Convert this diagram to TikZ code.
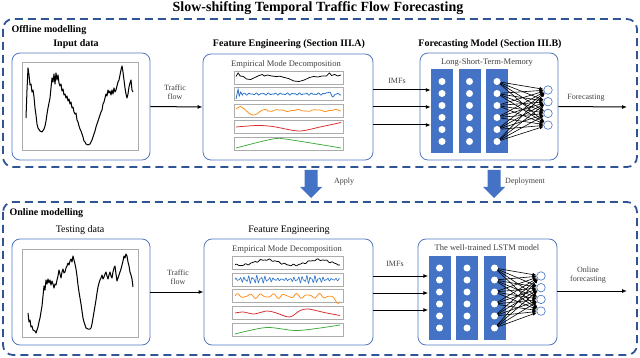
\documentclass[tikz,border=0pt]{standalone}
\usepackage{fontspec}
\setmainfont{Liberation Serif}
\usetikzlibrary{arrows.meta}
\definecolor{dashblue}{RGB}{47,85,151}
\definecolor{boxblue}{RGB}{84,120,190}
\definecolor{colblue}{RGB}{68,114,196}
\definecolor{txtgray}{RGB}{64,64,64}
\definecolor{imfblue}{RGB}{35,110,200}
\definecolor{imforange}{RGB}{255,140,20}
\definecolor{imfred}{RGB}{220,40,40}
\definecolor{imfgreen}{RGB}{60,170,60}
\tikzset{imf/.style 2 args={shift={(#1,#2)},x=105pt,y=5pt,line width=0.75pt}}
\begin{document}
\begin{tikzpicture}[x=1pt,y=-1pt,
  stage/.style={draw=dashblue,line width=1.8pt,dash pattern=on 8pt off 5pt,rounded corners=10pt},
  panel/.style={draw=boxblue,line width=0.8pt,rounded corners=8pt,fill=white},
  frame/.style={draw=gray!65,line width=0.8pt},
  head/.style={font=\fontsize{10}{12}\selectfont\bfseries},
  sub/.style={font=\fontsize{10}{12}\selectfont},
  lbl/.style={font=\fontsize{8}{9}\selectfont,text=txtgray,align=center},
  layer/.style={fill=colblue,minimum width=22pt,minimum height=84pt,inner sep=0},
  cell/.style={circle,fill=white,minimum size=7pt,inner sep=0},
  outcell/.style={circle,draw=colblue,fill=white,line width=0.6pt,minimum size=8.5pt,inner sep=0},
  flow/.style={-{Latex[length=5pt,width=4pt]},line width=1pt},
  link/.style={-{Latex[length=4pt,width=3.5pt]},line width=0.6pt},
  curve/.style={line width=1pt,line join=round}]
\useasboundingbox (0,0) rectangle (640,358);
\node[font=\fontsize{14}{16}\selectfont\bfseries] (title) at (318,8) {Slow-shifting Temporal Traffic Flow Forecasting};

% offline part
\draw[stage] (3,19) rectangle (637,167);
\node[head,anchor=west] (offT) at (8,30) {Offline modelling};
\node[head] (inT) at (76,44) {Input data};
\node[panel,minimum width=138pt,minimum height=107pt] (inA) at (81,106.5) {};
\draw[frame] (22,62) rectangle (138,150);
\draw[curve] plot coordinates {(26,118)(27,90)(28,68)(29,75)(30,85)(31,84)(32,92)(33,90)(34,97)(35,108)(36,115)(37,124)(38,128)(40,131)(42,132)(44,129)(45,126)(46,121)(47,114)(48,108)(49,103)(50,98)(51,88)(52,78)(53,82)(54,74)(55,84)(56,73)(57,80)(58,75)(59,83)(60,86)(61,84)(62,91)(63,89)(64,95)(65,94)(66,98)(67,96)(68,101)(69,99)(70,104)(71,102)(72,108)(73,107)(74,112)(75,114)(76,113)(77,120)(78,122)(79,126)(80,129)(81,131)(82,134)(83,137)(84,141)(85,142)(86,144)(88,145)(90,144)(91,142)(92,140)(93,137)(94,134)(95,131)(96,127)(97,124)(98,121)(99,118)(100,115)(101,112)(102,110)(103,104)(104,102)(105,98)(106,94)(107,96)(108,90)(109,93)(110,91)(111,95)(112,90)(113,94)(114,88)(115,92)(116,90)(117,86)(118,82)(119,80)(120,75)(121,70)(122,66)(123,72)(124,80)(125,88)(126,94)(127,98)(128,94)(129,87)(130,83)(131,80)(132,90)(133,92)};
\node[lbl] (tfA) at (175,92) {Traffic\\flow};

\node[head] (feT) at (289,44) {Feature Engineering (Section III.A)};
\node[panel,minimum width=170pt,minimum height=106pt] (feA) at (288,107) {};
\node[lbl,font=\fontsize{8.5}{10}\selectfont] (emdA) at (286,64) {Empirical Mode Decomposition};
\foreach \t in {71,87.5,104,120.5,137} \draw[frame] (234,\t) rectangle (343,\t+13);
\draw[imf={236}{77.5}] plot coordinates {(0,0.2)(0.02,0.9)(0.04,0.3)(0.07,0.2)(0.1,-0.3)(0.14,-0.4)(0.18,0)(0.22,0.4)(0.25,0.6)(0.27,0.3)(0.3,0.5)(0.34,0.3)(0.38,0.2)(0.42,0.25)(0.46,0)(0.5,-0.2)(0.55,-0.7)(0.6,-0.8)(0.65,-0.5)(0.7,0)(0.74,0.2)(0.78,0.1)(0.82,0.3)(0.86,0.3)(0.89,0.9)(0.91,0.4)(0.94,0.6)(0.97,0.3)(1,0.5)};
\draw[imf={236}{94},imfblue] plot coordinates {(0,-1)(0.02,1)(0.03,-0.4)(0.045,0.4)(0.06,-0.2)} -- plot[domain=0.06:1,samples=160] (\x,{0.12*sin(6100*\x)+0.1*sin(9700*\x)+0.8*exp(-((\x-0.9)*30)^2)*sin(2600*\x)});
\draw[imf={236}{110.5},imforange] plot[smooth] coordinates {(0,0.3)(0.04,0.8)(0.08,0.3)(0.12,-0.5)(0.16,-0.9)(0.2,-0.7)(0.24,0)(0.28,0.2)(0.3,0)} -- plot[domain=0.3:1,samples=80] (\x,{0.15*sin(2000*\x)+0.06*sin(5000*\x)});
\draw[imf={236}{127},imfred] plot[smooth] coordinates {(0,0)(0.2,0.3)(0.35,0.1)(0.6,-0.8)(0.8,0)(1,0.9)};
\draw[imf={236}{143.5},imfgreen] plot[smooth] coordinates {(0,-0.9)(0.35,0.9)(0.5,0.8)(1,-0.9)};

\node[head] (lmT) at (490,44) {Forecasting Model (Section III.B)};
\node[panel,minimum width=138pt,minimum height=107pt] (lmA) at (489,106.5) {};
\node[lbl,font=\fontsize{8.5}{10}\selectfont] (lstmA) at (487,62) {Long-Short-Term-Memory};

% online part
\draw[stage] (3,202) rectangle (637,355);
\node[head,anchor=west] (onT) at (6,213) {Online modelling};
\node[sub] (inT2) at (80,230) {Testing data};
\node[panel,minimum width=138pt,minimum height=106pt] (inB) at (81,292) {};
\draw[frame] (22,249) rectangle (138,337);
\draw[curve] plot coordinates {(28,313)(29,322)(30,320)(31,327)(32,326)(33,330)(35,331)(36,333)(37,330)(38,327)(39,322)(40,318)(41,312)(42,306)(43,296)(44,286)(45,290)(46,280)(47,284)(48,279)(49,283)(50,280)(51,285)(52,281)(53,284)(54,288)(55,284)(56,285)(57,280)(58,276)(59,270)(60,274)(61,278)(62,272)(63,269)(64,273)(65,272)(66,268)(67,266)(68,263)(69,265)(70,261)(71,259)(72,262)(73,256)(74,260)(75,264)(76,269)(77,276)(78,285)(79,292)(80,298)(81,304)(82,311)(83,318)(84,322)(85,325)(86,328)(88,329)(90,329)(91,328)(92,324)(93,318)(94,312)(95,306)(96,300)(97,293)(98,287)(99,283)(100,280)(101,278)(102,275)(103,279)(104,277)(105,274)(106,272)(107,276)(108,279)(109,275)(110,272)(111,276)(112,278)(113,272)(114,268)(115,266)(116,274)(117,281)(118,278)(119,275)(120,272)(121,269)(122,265)(123,261)(124,256)(125,258)(126,254)(127,256)(128,262)(129,266)(130,272)(131,275)(132,279)(133,287)};
\node[lbl] (tfB) at (178,277.5) {Traffic\\flow};

\node[sub] (feT2) at (289,230) {Feature Engineering};
\node[panel,minimum width=169pt,minimum height=106pt] (feB) at (288.5,292) {};
\node[lbl,font=\fontsize{8.5}{10}\selectfont] (emdB) at (287,249) {Empirical Mode Decomposition};
\foreach \t in {256,273,289.5,306,323} \draw[frame] (232,\t) rectangle (343,\t+13);
\draw[imf={235}{262.5}] plot[domain=0:1,samples=120] (\x,{-0.55*cos(720*(\x-0.05))+0.12*sin(4700*\x)+0.08*sin(7900*\x)});
\draw[imf={235}{279.5},imfblue,line width=0.6pt] plot[domain=0:1,samples=260] (\x,{(0.55+0.3*cos(720*(\x-0.2)))*(0.6*sin(9100*\x)+0.4*sin(14300*\x))});
\draw[imf={235}{296},imforange] plot[domain=0:1,samples=120] (\x,{0.35*sin(360*9*\x)+0.15*sin(360*14*\x)-1.1*exp(-((\x-1)*14)^2)});
\draw[imf={235}{312.5},imfred] plot[smooth] coordinates {(0,-0.1)(0.08,0.1)(0.18,-0.3)(0.3,0.3)(0.38,0)(0.52,-0.9)(0.62,0.4)(0.7,0.7)(0.85,0)(1,-0.6)};
\draw[imf={235}{329.5},imfgreen] plot[smooth] coordinates {(0,-0.9)(0.3,0.4)(0.6,-0.2)(1,0.9)};

\node[panel,minimum width=139pt,minimum height=106pt] (lmB) at (487.5,292) {};
\node[lbl,font=\fontsize{8.5}{10}\selectfont] (lstmB) at (487,248) {The well-trained LSTM model};

% networks
\foreach \n/\cx/\cy/\ox/\oy in {A/442/111.5/548/90,B/439.5/298/541/276}{
  \foreach \c in {1,2,3}{
    \node[layer] (\n col\c) at (\cx+27.5*\c-27.5,\cy) {};
    \foreach \r in {1,...,6} \node[cell] (\n-\c-\r) at (\cx+27.5*\c-27.5,\cy+12*\r-42) {};
  }
  \foreach \o in {1,...,4} \node[outcell] (\n o\o) at (\ox,\oy+11.7*\o-11.7) {};
  \foreach \r in {1,...,6} \foreach \o in {1,...,4} \draw[link] (\n-3-\r) -- (\n o\o);
}

% connectors
\coordinate (fcA) at (627,107);
\coordinate (fcB) at (627,291);
\draw[flow] (inA.east) -- (feA.west);
\draw[flow] (inB.east) -- (feB.west);
\foreach \y in {90,107,125} \draw[flow] (feA.east |- 0,\y) -- (Acol1.west |- 0,\y);
\foreach \y in {276,293,310} \draw[flow] (feB.east |- 0,\y) -- (Bcol1.west |- 0,\y);
\draw[flow] (lmA.east) -- (fcA);
\draw[flow] (lmB.east |- fcB) -- (fcB);
\node[lbl] (imfA) at (397,81) {IMFs};
\node[lbl] (imfB) at (395,264) {IMFs};
\node[lbl] (outA) at (586,98) {Forecasting};
\node[lbl] (outB) at (588,275.5) {Online\\forecasting};

% stage arrows
\foreach \ax/\txt/\tx in {311/Apply/344,494/Deployment/525}{
  \fill[colblue] (\ax-6.5,170) -- (\ax+6.5,170) -- (\ax+6.5,187) -- (\ax+11,187) -- (\ax,198) -- (\ax-11,187) -- (\ax-6.5,187) -- cycle;
  \node[lbl] (\txt) at (\tx,182) {\txt};
}
\end{tikzpicture}
\end{document}
